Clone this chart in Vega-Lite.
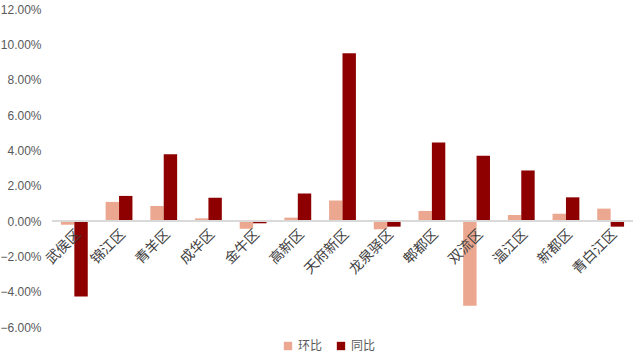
{
  "$schema": "https://vega.github.io/schema/vega-lite/v6.json",
  "width": 581,
  "height": 318,
  "autosize": {"type": "none"},
  "padding": {"left": 52, "top": 9, "right": 7, "bottom": 33},
  "background": "#ffffff",
  "config": {"view": {"stroke": null}, "font": "Noto Sans CJK SC"},
  "data": {"values": [
    {"district": "武侯区", "series": "环比", "value": -0.0021},
    {"district": "武侯区", "series": "同比", "value": -0.0428},
    {"district": "锦江区", "series": "环比", "value": 0.0108},
    {"district": "锦江区", "series": "同比", "value": 0.0142},
    {"district": "青羊区", "series": "环比", "value": 0.0085},
    {"district": "青羊区", "series": "同比", "value": 0.0378},
    {"district": "成华区", "series": "环比", "value": 0.0015},
    {"district": "成华区", "series": "同比", "value": 0.0132},
    {"district": "金牛区", "series": "环比", "value": -0.0044},
    {"district": "金牛区", "series": "同比", "value": -0.0013},
    {"district": "高新区", "series": "环比", "value": 0.0019},
    {"district": "高新区", "series": "同比", "value": 0.0156},
    {"district": "天府新区", "series": "环比", "value": 0.0116},
    {"district": "天府新区", "series": "同比", "value": 0.0949},
    {"district": "龙泉驿区", "series": "环比", "value": -0.0047},
    {"district": "龙泉驿区", "series": "同比", "value": -0.0032},
    {"district": "郫都区", "series": "环比", "value": 0.0057},
    {"district": "郫都区", "series": "同比", "value": 0.0445},
    {"district": "双流区", "series": "环比", "value": -0.048},
    {"district": "双流区", "series": "同比", "value": 0.0369},
    {"district": "温江区", "series": "环比", "value": 0.0034},
    {"district": "温江区", "series": "同比", "value": 0.0286},
    {"district": "新都区", "series": "环比", "value": 0.0041},
    {"district": "新都区", "series": "同比", "value": 0.0134},
    {"district": "青白江区", "series": "环比", "value": 0.007},
    {"district": "青白江区", "series": "同比", "value": -0.0032}
  ]},
  "encoding": {
    "x": {"field": "district", "type": "nominal", "sort": null,
          "scale": {"paddingInner": 0.4, "paddingOuter": 0.2}, "axis": null},
    "y": {"field": "value", "type": "quantitative",
          "scale": {"domain": [-0.06, 0.12], "nice": false, "zero": false},
          "axis": {"format": ".2%", "tickCount": 20, "values": [-0.06, -0.04, -0.02, 0, 0.02, 0.04, 0.06, 0.08, 0.1, 0.12],
                   "grid": false, "ticks": false, "domain": false, "labelPadding": 11,
                   "labelOverlap": false, "labelFont": "Liberation Sans", "labelBound": false,
                   "labelFontSize": 12, "labelColor": "#595959", "title": null}}
  },
  "layer": [
    {
      "mark": {"type": "bar"},
      "encoding": {
        "xOffset": {"field": "series", "type": "nominal", "sort": ["环比", "同比"], "scale": {"padding": 0}},
        "color": {"field": "series", "type": "nominal", "sort": ["环比", "同比"],
                  "scale": {"domain": ["环比", "同比"], "range": ["#EBA78F", "#8E0000"]},
                  "legend": {"title": null, "orient": "none", "direction": "horizontal",
                             "legendX": 230, "legendY": 331, "symbolType": "square", "symbolSize": 70,
                             "labelFontSize": 12, "labelColor": "#595959", "columnPadding": 12}}
      }
    },
    {
      "mark": {"type": "rule", "color": "#D9D9D9", "strokeWidth": 1},
      "encoding": {"y": {"datum": 0}, "x": null}
    },
    {
      "transform": [{"filter": "datum.series === '环比'"}],
      "mark": {"type": "text", "angle": 315, "align": "right", "baseline": "middle",
               "dx": -5, "dy": 11, "fontSize": 14, "color": "#404040"},
      "encoding": {"y": {"datum": 0}, "text": {"field": "district"}}
    }
  ]
}
